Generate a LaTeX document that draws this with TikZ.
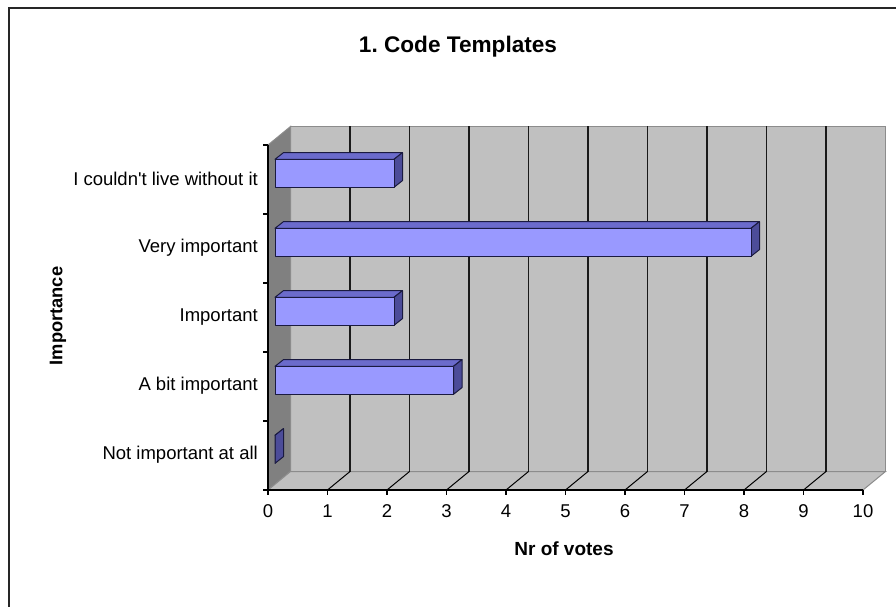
\documentclass[tikz,border=0pt]{standalone}
\usepackage{fontspec}
\setmainfont{Liberation Sans}
\frenchspacing
\definecolor{wallgray}{HTML}{C0C0C0}
\definecolor{sidegray}{HTML}{808080}
\definecolor{edgegray}{HTML}{8C8C8C}
\definecolor{barfront}{HTML}{9999FF}
\definecolor{bartop}{HTML}{6B6BCC}
\definecolor{barside}{HTML}{4C4C99}
\definecolor{barline}{HTML}{1A1A40}
\begin{document}
\begin{tikzpicture}[x=1pt,y=-1pt,
  ticklabel/.style={font=\fontsize{18.5}{20}\selectfont, inner sep=0pt},
  catlabel/.style={font=\fontsize{18.5}{20}\selectfont, inner sep=0pt, anchor=east},
  axistitle/.style={font=\fontsize{19}{21}\selectfont\bfseries, inner sep=0pt},
  gridline/.style={black!90, line width=1.4pt},
  barface/.style={draw=barline, line width=1pt, line join=round}]
\useasboundingbox (0,0) rectangle (896,607);
\fill[white] (0,0) rectangle (896,607);
% chart area frame (only the left and top edges fall on the page)
\draw[line width=2pt, black!85] (9,607) -- (9,8) -- (896,8);

% geometry: front origin (268,490), unit 59.5, depth offset (22.5,-18.5)
% walls and floor
\filldraw[fill=wallgray, draw=edgegray, line width=1pt] (290.5,126.5) rectangle (885.5,471.5);
\filldraw[fill=sidegray, draw=edgegray, line width=1pt] (268,145) -- (290.5,126.5) -- (290.5,471.5) -- (268,490) -- cycle;
\filldraw[fill=wallgray, draw=edgegray, line width=1pt] (268,490) -- (290.5,471.5) -- (885.5,471.5) -- (863,490) -- cycle;

% value gridlines on the back wall and floor
\foreach \k in {1,...,9} {
  \draw[gridline] (290.5+59.5*\k,126.5) -- (290.5+59.5*\k,471.5);
  \draw[black, line width=1pt] (268+59.5*\k,490) -- (290.5+59.5*\k,471.5);
}

% axes and ticks
\draw[black, line width=1.4pt] (268,145) -- (268,490) -- (863,490);
\foreach \j in {0,...,5}
  \draw[black, line width=1.2pt] (263,490-69*\j) -- (268,490-69*\j);
\foreach \k in {0,...,10}
  \draw[black, line width=1.2pt] (268+59.5*\k,490) -- (268+59.5*\k,495);

% bars: value and category centre
\foreach \v/\c in {0/455, 3/386, 2/317, 8/248, 2/179} {
  \pgfmathsetmacro{\xa}{275}
  \pgfmathsetmacro{\xb}{275+59.5*\v}
  \pgfmathsetmacro{\ya}{\c-19.7}
  \pgfmathsetmacro{\yb}{\c+8.3}
  % top face
  \filldraw[barface, fill=bartop] (\xa,\ya) -- (\xa+8.5,\ya-6.7) -- (\xb+8.5,\ya-6.7) -- (\xb,\ya) -- cycle;
  % side face
  \filldraw[barface, fill=barside] (\xb,\ya) -- (\xb+8.5,\ya-6.7) -- (\xb+8.5,\yb-6.7) -- (\xb,\yb) -- cycle;
  % front face
  \filldraw[barface, fill=barfront] (\xa,\ya) rectangle (\xb,\yb);
}

% value axis labels
\foreach \k in {0,...,10}
  \node[ticklabel] (tick\k) at (268+59.5*\k,511.5) {\k};

% category labels
\node[catlabel] (cat1) at (258,455) {Not important at all};
\node[catlabel] (cat2) at (258,386) {A bit important};
\node[catlabel] (cat3) at (258,317) {Important};
\node[catlabel] (cat4) at (258,248) {Very important};
\node[catlabel] (cat5) at (258,179) {I couldn\textquotesingle t live without it};

% titles
\node[font=\fontsize{22.6}{25}\selectfont\bfseries, inner sep=0pt] (title) at (458,47) {1. Code Templates};
\node[axistitle] (xtitle) at (564,549) {Nr of votes};
\node[axistitle, rotate=90, font=\fontsize{18.3}{20}\selectfont\bfseries] (ytitle) at (58,316) {Importance};
\end{tikzpicture}
\end{document}
